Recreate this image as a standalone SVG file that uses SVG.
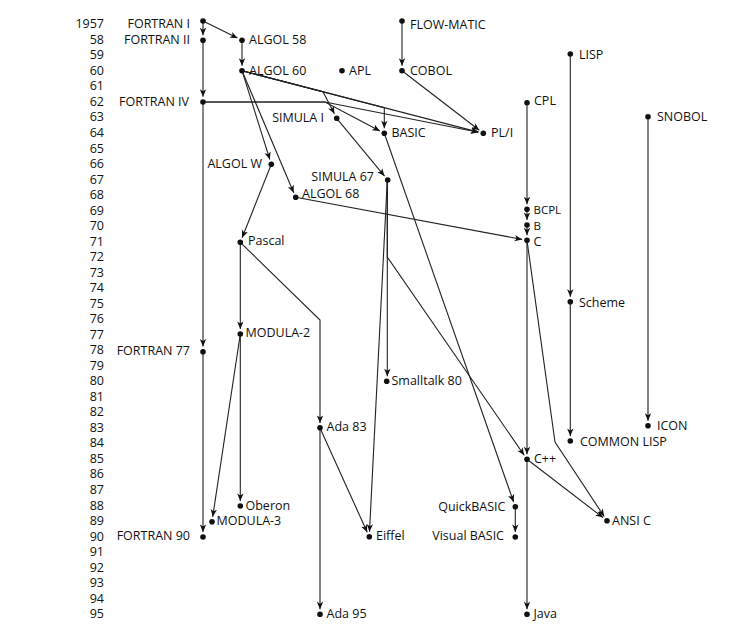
<svg xmlns="http://www.w3.org/2000/svg" width="755" height="628" viewBox="0 0 755 628">
<style>
text{font-family:"Open Sans","Liberation Sans",sans-serif;font-size:12.5px;fill:#111}
.yr{text-anchor:end}
.r{text-anchor:end}
.s{font-size:11.5px}
circle{fill:#111}
#connectors path{fill:none;stroke:#222;stroke-width:1.1;marker-end:url(#a)}
</style>
<defs>
<marker id="a" viewBox="-8 -4 9 8" refX="0" refY="0" markerWidth="9" markerHeight="8" orient="auto" markerUnits="userSpaceOnUse">
<path d="M0,0 L-7.5,-3.2 L-5.5,0 L-7.5,3.2 Z" fill="#111"/>
</marker>
</defs>
<rect width="755" height="628" fill="#fff"/>
<g id="years">
<text class="yr" x="104" y="28">1957</text>
<text class="yr" x="104" y="43.8">58</text>
<text class="yr" x="104" y="59.3">59</text>
<text class="yr" x="104" y="74.8">60</text>
<text class="yr" x="104" y="90.4">61</text>
<text class="yr" x="104" y="105.9">62</text>
<text class="yr" x="104" y="121.4">63</text>
<text class="yr" x="104" y="136.9">64</text>
<text class="yr" x="104" y="152.5">65</text>
<text class="yr" x="104" y="168">66</text>
<text class="yr" x="104" y="183.5">67</text>
<text class="yr" x="104" y="199">68</text>
<text class="yr" x="104" y="214.5">69</text>
<text class="yr" x="104" y="230.1">70</text>
<text class="yr" x="104" y="245.6">71</text>
<text class="yr" x="104" y="261.1">72</text>
<text class="yr" x="104" y="276.6">73</text>
<text class="yr" x="104" y="292.2">74</text>
<text class="yr" x="104" y="307.7">75</text>
<text class="yr" x="104" y="323.2">76</text>
<text class="yr" x="104" y="338.7">77</text>
<text class="yr" x="104" y="354.2">78</text>
<text class="yr" x="104" y="369.8">79</text>
<text class="yr" x="104" y="385.3">80</text>
<text class="yr" x="104" y="400.8">81</text>
<text class="yr" x="104" y="416.3">82</text>
<text class="yr" x="104" y="431.9">83</text>
<text class="yr" x="104" y="447.4">84</text>
<text class="yr" x="104" y="462.9">85</text>
<text class="yr" x="104" y="478.4">86</text>
<text class="yr" x="104" y="493.9">87</text>
<text class="yr" x="104" y="509.5">88</text>
<text class="yr" x="104" y="525">89</text>
<text class="yr" x="104" y="540.5">90</text>
<text class="yr" x="104" y="556">91</text>
<text class="yr" x="104" y="571.6">92</text>
<text class="yr" x="104" y="587.1">93</text>
<text class="yr" x="104" y="602.6">94</text>
<text class="yr" x="104" y="618.1">95</text>
</g>
<g id="connectors">
<path d="M203,21 V35.3"/>
<path d="M203,21 L237.5,38.1"/>
<path d="M203,40.3 V96.7"/>
<path d="M203,102 V346.5"/>
<path d="M203,351.7 V532"/>
<path d="M242,40.3 V65.7"/>
<path d="M402,21 V65.7"/>
<path d="M402,70.7 L479.3,130.3"/>
<path d="M242,70.7 L478.5,132.1"/>
<path d="M242,70.7 L323,91.8 L334.4,113.8"/>
<path d="M242,70.7 L384.3,107.6 V128.3"/>
<path d="M203,102 L325,102 L379.9,130.9"/>
<path d="M203,102 L325,102 L478.4,132.3"/>
<path d="M242,70.7 L269.8,159.5"/>
<path d="M242,70.7 L293.7,192.7"/>
<path d="M336.7,118.3 L384.5,176.1"/>
<path d="M271.3,164.3 L242.1,237.7"/>
<path d="M295.7,197.3 L522.1,239.4"/>
<path d="M527,102.7 V204.3"/>
<path d="M527,209.3 V220"/>
<path d="M527,225 V235.3"/>
<path d="M527,240.3 V454.3"/>
<path d="M527,459.3 V609.3"/>
<path d="M527,240.3 L555,442 L604.2,516.5"/>
<path d="M527,459.3 L603,517.6"/>
<path d="M387.3,180 V376.3"/>
<path d="M387.3,180 V257 L524.2,455.2"/>
<path d="M387.3,180 L369.5,531.7"/>
<path d="M384.3,133.3 L513.6,502"/>
<path d="M515.3,506.7 V532"/>
<path d="M240.3,242.3 V329"/>
<path d="M240.3,334 V501"/>
<path d="M240.3,334 L212.7,516.8"/>
<path d="M240.3,242.3 L320,320 V423"/>
<path d="M320,428 V609.3"/>
<path d="M320,428 L367.2,532.2"/>
<path d="M570.3,54 V296.7"/>
<path d="M570.3,301.7 V436"/>
<path d="M648,116.7 V420.7"/>
</g>
<g id="fortran1"><circle cx="203" cy="21" r="2.8"/><text class="r" x="190" y="28">FORTRAN I</text></g>
<g id="fortran2"><circle cx="203" cy="40.3" r="2.8"/><text class="r" x="190" y="44">FORTRAN II</text></g>
<g id="fortran4"><circle cx="203" cy="102" r="2.8"/><text class="r" x="189" y="105.5">FORTRAN IV</text></g>
<g id="fortran77"><circle cx="203" cy="351.7" r="2.8"/><text class="r" x="190" y="354.5">FORTRAN 77</text></g>
<g id="fortran90"><circle cx="203" cy="537" r="2.8"/><text class="r" x="190" y="540">FORTRAN 90</text></g>
<g id="algol58"><circle cx="242" cy="40.3" r="2.8"/><text x="249" y="44">ALGOL 58</text></g>
<g id="algol60"><circle cx="242" cy="70.7" r="2.8"/><text x="249" y="74.5">ALGOL 60</text></g>
<g id="apl"><circle cx="342" cy="70.7" r="2.8"/><text x="349" y="74.5">APL</text></g>
<g id="flowmatic"><circle cx="402" cy="21" r="2.8"/><text x="410" y="28.5">FLOW-MATIC</text></g>
<g id="cobol"><circle cx="402" cy="70.7" r="2.8"/><text x="410" y="74.5">COBOL</text></g>
<g id="lisp"><circle cx="570.3" cy="54" r="2.8"/><text x="579" y="58.5">LISP</text></g>
<g id="cpl"><circle cx="527" cy="102.7" r="2.8"/><text x="534" y="104.5">CPL</text></g>
<g id="snobol"><circle cx="648" cy="116.7" r="2.8"/><text x="657" y="120.5">SNOBOL</text></g>
<g id="simula1"><circle cx="336.7" cy="118.3" r="2.8"/><text class="r" x="324" y="122">SIMULA I</text></g>
<g id="basic"><circle cx="384.3" cy="133.3" r="2.8"/><text x="391.5" y="137">BASIC</text></g>
<g id="pl1"><circle cx="483.3" cy="133.3" r="2.8"/><text x="491" y="137">PL/I</text></g>
<g id="algolw"><circle cx="271.3" cy="164.3" r="2.8"/><text class="r" x="262" y="168">ALGOL W</text></g>
<g id="simula67"><circle cx="387.7" cy="180" r="2.8"/><text class="r" x="374" y="181">SIMULA 67</text></g>
<g id="algol68"><circle cx="295.7" cy="197.3" r="2.8"/><text x="302" y="197.5">ALGOL 68</text></g>
<g id="bcpl"><circle cx="527" cy="209.3" r="2.8"/><text class="s" x="533.5" y="213.5">BCPL</text></g>
<g id="b"><circle cx="527" cy="225" r="2.8"/><text class="s" x="533.5" y="229.5">B</text></g>
<g id="c"><circle cx="527" cy="240.3" r="2.8"/><text x="533.5" y="245.5">C</text></g>
<g id="pascal"><circle cx="240.3" cy="242.3" r="2.8"/><text x="248" y="245">Pascal</text></g>
<g id="scheme"><circle cx="570.3" cy="301.7" r="2.8"/><text x="579" y="307">Scheme</text></g>
<g id="modula2"><circle cx="240.3" cy="334" r="2.8"/><text x="245.5" y="337">MODULA-2</text></g>
<g id="smalltalk80"><circle cx="386.7" cy="381.3" r="2.8"/><text x="391.5" y="384.5">Smalltalk 80</text></g>
<g id="icon"><circle cx="648" cy="425.7" r="2.8"/><text x="657" y="430">ICON</text></g>
<g id="ada83"><circle cx="320" cy="427.7" r="2.8"/><text x="326.5" y="431">Ada 83</text></g>
<g id="commonlisp"><circle cx="570.3" cy="441" r="2.8"/><text x="580" y="445.5">COMMON LISP</text></g>
<g id="cpp"><circle cx="527" cy="459.3" r="2.8"/><text x="534" y="463">C++</text></g>
<g id="oberon"><circle cx="240.3" cy="506" r="2.8"/><text x="245.5" y="509.5">Oberon</text></g>
<g id="quickbasic"><circle cx="515.3" cy="506.7" r="2.8"/><text class="r" x="505.5" y="510.5">QuickBASIC</text></g>
<g id="modula3"><circle cx="212" cy="521.7" r="2.8"/><text x="216.5" y="525">MODULA-3</text></g>
<g id="ansic"><circle cx="607" cy="520.7" r="2.8"/><text x="612" y="524.5">ANSI C</text></g>
<g id="eiffel"><circle cx="369.3" cy="536.7" r="2.8"/><text x="376" y="540">Eiffel</text></g>
<g id="visualbasic"><circle cx="515.3" cy="537" r="2.8"/><text class="r" x="504" y="540">Visual BASIC</text></g>
<g id="ada95"><circle cx="320" cy="614.3" r="2.8"/><text x="326.5" y="618">Ada 95</text></g>
<g id="java"><circle cx="527" cy="614.3" r="2.8"/><text x="533.5" y="618">Java</text></g>
</svg>
